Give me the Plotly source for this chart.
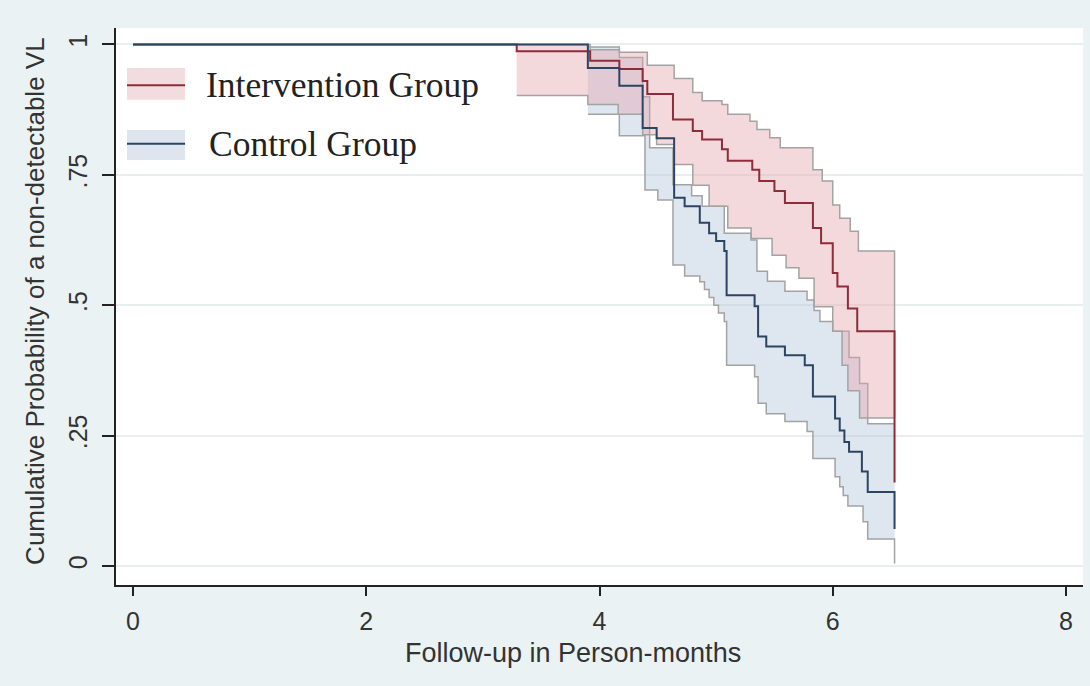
import plotly.graph_objects as go

# ---------------- data ----------------
# Kaplan-Meier estimates (months, cumulative probability)
int_t = [0, 3.29, 3.92, 4.17, 4.37, 4.41, 4.63, 4.80, 4.88, 5.05, 5.10, 5.31, 5.37,
         5.50, 5.59, 5.83, 5.90, 6.00, 6.04, 6.13, 6.21, 6.53]
int_s = [1.0, 0.987, 0.969, 0.953, 0.93, 0.905, 0.856, 0.834, 0.818, 0.799, 0.777, 0.760,
         0.738, 0.719, 0.696, 0.648, 0.619, 0.562, 0.536, 0.494, 0.45, 0.16]

ctl_t = [0, 3.90, 4.17, 4.37, 4.49, 4.64, 4.73, 4.86, 4.94, 5.00, 5.07, 5.09, 5.33, 5.36,
         5.43, 5.59, 5.76, 5.83, 6.02, 6.06, 6.10, 6.14, 6.25, 6.30, 6.53]
ctl_s = [1.0, 0.955, 0.921, 0.84, 0.82, 0.706, 0.69, 0.658, 0.638, 0.623, 0.604, 0.519,
         0.498, 0.44, 0.421, 0.404, 0.385, 0.325, 0.283, 0.26, 0.238, 0.219, 0.181, 0.142, 0.071]

# 95% confidence bands
iu_t = [3.29, 3.92, 4.17, 4.41, 4.64, 4.80, 4.88, 5.05, 5.10, 5.29, 5.35, 5.46, 5.55,
        5.83, 5.91, 6.00, 6.06, 6.15, 6.22, 6.53]
iu_s = [1.0, 0.99, 0.985, 0.96, 0.935, 0.908, 0.892, 0.885, 0.866, 0.853, 0.837, 0.821,
        0.802, 0.76, 0.738, 0.692, 0.667, 0.642, 0.604, 0.284]
il_t = [3.29, 3.90, 4.16, 4.37, 4.49, 4.64, 4.80, 4.94, 5.10, 5.30, 5.48, 5.60, 5.71,
        5.84, 6.00, 6.08, 6.13, 6.23, 6.53]
il_s = [0.902, 0.885, 0.866, 0.827, 0.808, 0.77, 0.73, 0.69, 0.648, 0.628, 0.596, 0.572,
        0.552, 0.497, 0.45, 0.385, 0.336, 0.284, 0.284]

cu_t = [3.90, 4.17, 4.37, 4.43, 4.63, 4.79, 4.88, 5.07, 5.30, 5.35, 5.44, 5.59, 5.78,
        5.84, 5.89, 6.00, 6.14, 6.23, 6.30, 6.53]
cu_s = [0.995, 0.975, 0.9, 0.802, 0.731, 0.71, 0.69, 0.638, 0.625, 0.565, 0.546, 0.527,
        0.51, 0.49, 0.469, 0.45, 0.40, 0.35, 0.273, 0.273]
cl_t = [3.90, 4.17, 4.39, 4.50, 4.63, 4.73, 4.86, 4.90, 4.94, 4.98, 5.02, 5.07, 5.09,
        5.33, 5.36, 5.43, 5.59, 5.78, 5.83, 6.02, 6.06, 6.09, 6.13, 6.26, 6.30, 6.53]
cl_s = [0.866, 0.825, 0.721, 0.702, 0.577, 0.556, 0.545, 0.53, 0.515, 0.50, 0.485, 0.469,
        0.385, 0.363, 0.312, 0.292, 0.277, 0.258, 0.206, 0.171, 0.152, 0.135, 0.115, 0.085,
        0.052, 0.005]

x_ticks = [0, 2, 4, 6, 8]
y_ticks = [0, 0.25, 0.5, 0.75, 1]
y_ticktext = ["0", ".25", ".5", ".75", "1"]

groups = ["Intervention Group", "Control Group"]
x_title = "Follow-up in Person-months"
y_title = "Cumulative Probability of a non-detectable VL"

# ---------------- styles ----------------
RED = "#8e2c3a"
BLUE = "#2c4462"
PINK_FILL = "rgba(228,165,172,0.42)"
BLUE_FILL = "rgba(172,192,218,0.40)"
CI_LINE = "#a3a3a3"
BG = "#eaf2f3"
TXT = "#333333"

fig = go.Figure()


def band(t_up, s_up, t_lo, s_lo, fill):
    fig.add_trace(go.Scatter(x=t_up, y=s_up, mode="lines",
                             line=dict(shape="hv", color=CI_LINE, width=1.5),
                             hoverinfo="skip", showlegend=False))
    fig.add_trace(go.Scatter(x=t_lo, y=s_lo, mode="lines", fill="tonexty",
                             fillcolor=fill,
                             line=dict(shape="hv", color=CI_LINE, width=1.5),
                             hoverinfo="skip", showlegend=False))


band(cu_t, cu_s, cl_t, cl_s, BLUE_FILL)
band(iu_t, iu_s, il_t, il_s, PINK_FILL)

fig.add_trace(go.Scatter(x=int_t, y=int_s, mode="lines",
                         line=dict(shape="hv", color=RED, width=2),
                         name=groups[0], showlegend=False))
fig.add_trace(go.Scatter(x=ctl_t, y=ctl_s, mode="lines",
                         line=dict(shape="hv", color=BLUE, width=2),
                         name=groups[1], showlegend=False))

# ---------------- legend (drawn manually, Stata style) ----------------
leg = [
    (groups[0], "rgb(243,220,223)", RED, 0.928, 0.871, 0.897, 0.0915),
    (groups[1], "rgb(222,229,239)", BLUE, 0.817, 0.763, 0.792, 0.0945),
]
for label, fc, lc, y1, y0, ym, tx in leg:
    fig.add_shape(type="rect", xref="paper", yref="paper", x0=0.0114, x1=0.0714,
                  y0=y0, y1=y1, fillcolor=fc, line=dict(width=0), layer="above")
    fig.add_shape(type="line", xref="paper", yref="paper", x0=0.0114, x1=0.0714,
                  y0=ym, y1=ym, line=dict(color=lc, width=2), layer="above")
    fig.add_annotation(xref="paper", yref="paper", x=tx, y=ym, text=label,
                       showarrow=False, xanchor="left", yanchor="middle",
                       font=dict(family="Liberation Serif", size=35.5, color="#222222"))

# axis titles (placed as in the Stata graph, centred on the graph region)
fig.add_annotation(xref="paper", yref="paper", x=0.4726, y=-0.122, text=x_title,
                   showarrow=False, xanchor="center", yanchor="middle",
                   font=dict(size=27, color=TXT))
fig.add_annotation(xref="paper", yref="paper", x=-0.0838, y=0.51, text=y_title,
                   showarrow=False, xanchor="center", yanchor="middle", textangle=-90,
                   font=dict(size=26, color=TXT))

fig.update_layout(
    width=1090, height=686,
    paper_bgcolor=BG, plot_bgcolor="white",
    margin=dict(l=116, r=7, t=28, b=101, pad=0),
    font=dict(family="Liberation Sans", color=TXT),
    showlegend=False,
)
fig.update_xaxes(
    range=[-0.146, 8.146], tickvals=x_ticks, ticks="outside", ticklen=9,
    tickwidth=1.5, tickcolor="#222222", showline=True, linecolor="#222222",
    linewidth=1.5, showgrid=False, zeroline=False, ticklabelstandoff=4,
    tickfont=dict(size=25, color=TXT),
)
fig.update_yaxes(
    range=[-0.0364, 1.0316], tickvals=y_ticks, ticktext=y_ticktext, tickangle=-90,
    ticks="outside", ticklen=12, tickwidth=1.5, tickcolor="#222222",
    showline=True, linecolor="#222222", linewidth=1.5, ticklabelstandoff=5,
    showgrid=True, gridcolor="#e9eeee", gridwidth=1.5, zeroline=False,
    tickfont=dict(size=25, color=TXT),
)

fig.write_html(
    "out.html",
    config={"displayModeBar": False},
    post_script="document.body.style.margin='0';document.body.style.background='#eaf2f3';",
)
